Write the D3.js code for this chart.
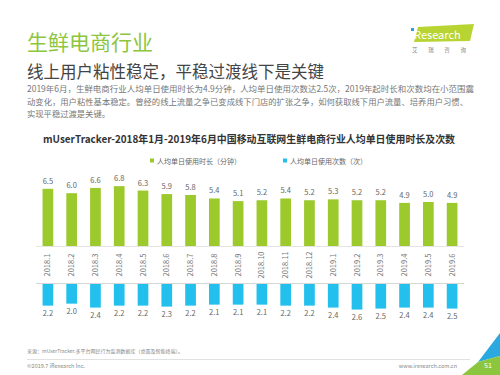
<!DOCTYPE html>
<html>
<head>
<meta charset="utf-8">
<script src="https://cdn.jsdelivr.net/npm/d3@7"></script>
<style>
  body { margin: 0; background: #fff; }
  svg { display: block; font-family: "Noto Sans CJK SC", "Noto Sans", sans-serif; }
</style>
</head>
<body>
<div id="chart"></div>
<script>
// month labels
var months = ["2018.1","2018.2","2018.3","2018.4","2018.5","2018.6","2018.7","2018.8","2018.9",
  "2018.10","2018.11","2018.12","2019.1","2019.2","2019.3","2019.4","2019.5","2019.6"];
// minutes per user per day
var durationVals = [6.5,6.0,6.6,6.8,6.3,5.9,5.8,5.4,5.1,5.2,5.4,5.2,5.3,5.2,5.2,4.9,5.0,4.9];
// sessions per user per day
var countVals = [2.2,2.0,2.4,2.2,2.2,2.3,2.2,2.1,2.1,2.1,2.2,2.2,2.4,2.6,2.5,2.4,2.4,2.5];
var legendNames = ["人均单日使用时长（分钟）", "人均单日使用次数（次）"];

var green = "#9cc92c", blue = "#23c0ee";
var w = 500, h = 375;

var svg = d3.select("#chart").append("svg")
  .attr("width", w).attr("height", h);

//Header
svg.append("text").attr("x", 27).attr("y", 50)
  .style("font-size", "21px").style("fill", "#8cc63f")
  .text("生鲜电商行业");
svg.append("text").attr("x", 27).attr("y", 78)
  .style("font-size", "16.5px").style("fill", "#444")
  .text("线上用户粘性稳定，平稳过渡线下是关键");

var para = [
  "2019年6月，生鲜电商行业人均单日使用时长为4.9分钟，人均单日使用次数达2.5次，2019年起时长和次数均在小范围震",
  "动变化，用户粘性基本稳定。曾经的线上流量之争已变成线下门店的扩张之争，如何获取线下用户流量、培养用户习惯、",
  "实现平稳过渡是关键。"
];
para.forEach(function(line, i) {
  var t = svg.append("text").attr("x", 27).attr("y", 92 + i * 12.5)
    .style("font-size", "8.3px").style("fill", "#777")
    .text(line);
  if (i < 2) t.attr("textLength", i == 0 ? 447 : 441).attr("lengthAdjust", "spacingAndGlyphs");
});

svg.append("text").attr("x", 43).attr("y", 143)
  .attr("textLength", 412).attr("lengthAdjust", "spacingAndGlyphs")
  .style("font-size", "10.5px").style("font-weight", "bold").style("fill", "#333")
  .text("mUserTracker-2018年1月-2019年6月中国移动互联网生鲜电商行业人均单日使用时长及次数");

//Logo
svg.append("polygon").attr("points", "418,27 474,24 470,41 414,42").style("fill", "#b7d433");
svg.append("text").attr("x", 411).attr("y", 39).style("font-size", "11px").style("fill", "#fff")
  .text("iResearch");
svg.append("rect").attr("x", 411).attr("y", 28).attr("width", 3).attr("height", 3).style("fill", "#2a9ee0");
svg.append("text").attr("x", 412).attr("y", 52).attr("textLength", 54).attr("lengthAdjust", "spacing")
  .style("font-size", "5.5px").style("fill", "#888").text("艾瑞咨询");

//Legend
var legendPos = [[150, 161], [283, 161]];
legendNames.forEach(function(name, i) {
  svg.append("rect").attr("x", legendPos[i][0]).attr("y", legendPos[i][1] - 2.5)
    .attr("width", 4).attr("height", 4).style("fill", i == 0 ? green : blue);
  svg.append("text").attr("x", legendPos[i][0] + 7).attr("y", legendPos[i][1] + 2.5)
    .style("font-size", "7px").style("fill", "#666").text(name);
});

//Scales
var x = d3.scaleBand().domain(months).range([36, 464]).paddingInner(0.55).paddingOuter(0.275);
var yTop = d3.scaleLinear().domain([0, 7]).range([246, 184.4]);
var yBot = d3.scaleLinear().domain([0, 3]).range([284, 313.5]);

//Top bars
svg.selectAll(".durBar").data(durationVals).enter().append("rect")
  .attr("class", "durBar")
  .attr("x", function(d, i) { return x(months[i]); })
  .attr("y", function(d) { return yTop(d); })
  .attr("width", x.bandwidth())
  .attr("height", function(d) { return yTop(0) - yTop(d); })
  .style("fill", green);
svg.selectAll(".durLbl").data(durationVals).enter().append("text")
  .attr("class", "durLbl")
  .attr("x", function(d, i) { return x(months[i]) + x.bandwidth() / 2; })
  .attr("y", function(d) { return yTop(d) - 5; })
  .attr("text-anchor", "middle")
  .style("font-size", "7.5px").style("fill", "#666")
  .text(function(d) { return d.toFixed(1); });

//Axis lines
svg.append("line").attr("x1", 36).attr("x2", 464).attr("y1", 246.5).attr("y2", 246.5)
  .style("stroke", "#ddd").style("stroke-width", 0.8);
svg.append("line").attr("x1", 36).attr("x2", 464).attr("y1", 283.5).attr("y2", 283.5)
  .style("stroke", "#ccc").style("stroke-width", 0.8);

//Month labels
svg.selectAll(".mLbl").data(months).enter().append("text")
  .attr("class", "mLbl")
  .attr("transform", function(d) {
    return "translate(" + (x(d) + x.bandwidth() / 2 + 2.5) + ",265) rotate(-90)";
  })
  .attr("text-anchor", "middle")
  .style("font-size", "7.5px").style("fill", "#777")
  .text(function(d) { return d; });

//Bottom bars
svg.selectAll(".cntBar").data(countVals).enter().append("rect")
  .attr("class", "cntBar")
  .attr("x", function(d, i) { return x(months[i]); })
  .attr("y", yBot(0))
  .attr("width", x.bandwidth())
  .attr("height", function(d) { return yBot(d) - yBot(0); })
  .style("fill", blue);
svg.selectAll(".cntLbl").data(countVals).enter().append("text")
  .attr("class", "cntLbl")
  .attr("x", function(d, i) { return x(months[i]) + x.bandwidth() / 2; })
  .attr("y", function(d) { return yBot(d) + 10; })
  .attr("text-anchor", "middle")
  .style("font-size", "7.5px").style("fill", "#666")
  .text(function(d) { return d.toFixed(1); });

//Footer
svg.append("text").attr("x", 27).attr("y", 353)
  .style("font-size", "5px").style("fill", "#888")
  .text("来源：mUserTracker.多平台网民行为监测数据库（桌面及智能终端）。");
svg.append("line").attr("x1", 27).attr("x2", 470).attr("y1", 359.5).attr("y2", 359.5)
  .style("stroke", "#ccc").style("stroke-width", 0.6);
svg.append("text").attr("x", 27).attr("y", 368)
  .style("font-size", "5.5px").style("fill", "#888").text("©2019.7 iResearch Inc.");
svg.append("text").attr("x", 457).attr("y", 368).attr("text-anchor", "end")
  .style("font-size", "5.5px").style("fill", "#888").text("www.iresearch.com.cn");
svg.append("polygon").attr("points", "500,333 478,362 500,356").style("fill", "#2aa9e0");
svg.append("polygon").attr("points", "500,356 478,362 462,375 500,375").style("fill", "#8cc63f");
svg.append("text").attr("x", 484).attr("y", 368).style("font-size", "7px").style("fill", "#fff").text("51");
</script>
</body>
</html>
